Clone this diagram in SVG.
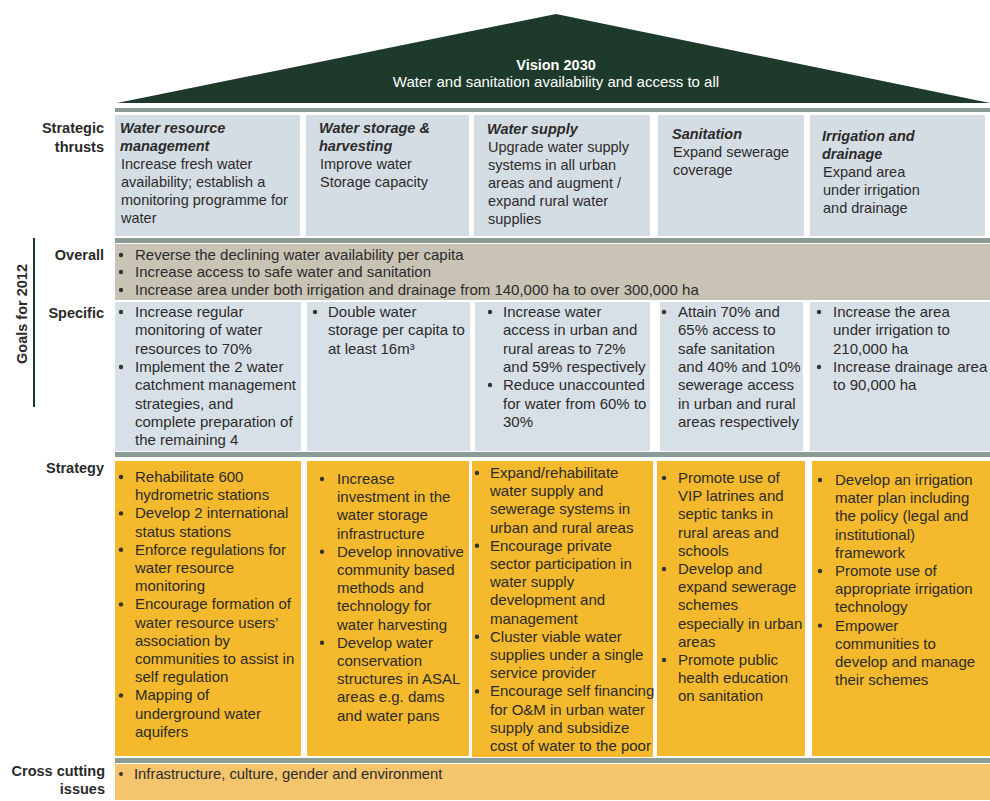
<svg xmlns="http://www.w3.org/2000/svg" width="990" height="801" viewBox="0 0 990 801">
<style>
text{font-family:"Liberation Sans",Arial,Helvetica,sans-serif;fill:#2b2b2b;font-size:15px}
.th{font-size:14.5px}
.hd{font-weight:bold;font-style:italic}
.lb{font-weight:bold;text-anchor:end;font-size:14.5px;fill:#2a2a2a}
.thr{fill:#d5dde4}
.ov{fill:#c9c3b5}
.sp{fill:#d8e0e7}
.st{fill:#f4b92d}
.cc{fill:#f5c56d}
.bar{fill:#8b9b96}
.dot{fill:#333}
</style>
<rect width="990" height="801" fill="#ffffff"/>

<g id="roof">
<polygon points="117,103 556,14 990,103" fill="#1d3a2b"/>
<text x="556" y="70" text-anchor="middle" style="font-weight:bold;font-size:14.5px;fill:#ffffff">Vision 2030</text>
<text x="556" y="87" text-anchor="middle" style="fill:#ffffff">Water and sanitation availability and access to all</text>
</g>

<g id="separators">
<rect class="bar" x="115" y="108" width="875" height="4"/>
<rect class="bar" x="115" y="238" width="875" height="5"/>
<rect class="bar" x="115" y="452" width="875" height="5"/>
<rect class="bar" x="115" y="758" width="875" height="5"/>
</g>
<g id="connectors"/>

<g id="labels">
<text class="lb" x="104" y="133">Strategic</text>
<text class="lb" x="104" y="152">thrusts</text>
<text class="lb" x="104" y="260">Overall</text>
<text class="lb" x="104" y="318">Specific</text>
<text class="lb" x="104" y="473">Strategy</text>
<text class="lb" x="105" y="776">Cross cutting</text>
<text class="lb" x="105" y="794">issues</text>
<text transform="translate(27,314) rotate(-90)" text-anchor="middle" style="font-weight:bold;font-size:14.5px;fill:#2a2a2a">Goals for 2012</text>
<line x1="34" y1="238" x2="34" y2="407" stroke="#1d3a2b" stroke-width="2"/>
</g>

<g id="thrust-water-resource">
<rect class="thr" x="115" y="115" width="185" height="121"/>
<text class="th"><tspan class="hd" x="120" y="133">Water resource</tspan><tspan class="hd" x="120" y="151">management</tspan><tspan x="121" y="169">Increase fresh water</tspan><tspan x="121" y="187">availability; establish a</tspan><tspan x="121" y="205">monitoring programme for</tspan><tspan x="121" y="223">water</tspan></text>
</g>
<g id="thrust-water-storage">
<rect class="thr" x="306" y="115" width="163" height="121"/>
<text class="th"><tspan class="hd" x="319" y="133">Water storage &amp;</tspan><tspan class="hd" x="319" y="151">harvesting</tspan><tspan x="320" y="169">Improve water</tspan><tspan x="320" y="187">Storage capacity</tspan></text>
</g>
<g id="thrust-water-supply">
<rect class="thr" x="474" y="115" width="176" height="121"/>
<text class="th"><tspan class="hd" x="487" y="134">Water supply</tspan><tspan x="488" y="152">Upgrade water supply</tspan><tspan x="488" y="170">systems in all urban</tspan><tspan x="488" y="188">areas and augment /</tspan><tspan x="488" y="206">expand rural water</tspan><tspan x="488" y="224">supplies</tspan></text>
</g>
<g id="thrust-sanitation">
<rect class="thr" x="658" y="115" width="146" height="121"/>
<text class="th"><tspan class="hd" x="672" y="139">Sanitation</tspan><tspan x="673" y="157">Expand sewerage</tspan><tspan x="673" y="175">coverage</tspan></text>
</g>
<g id="thrust-irrigation">
<rect class="thr" x="810" y="115" width="175" height="121"/>
<text class="th"><tspan class="hd" x="822" y="141">Irrigation and</tspan><tspan class="hd" x="822" y="159">drainage</tspan><tspan x="823" y="177">Expand area</tspan><tspan x="823" y="195">under irrigation</tspan><tspan x="823" y="213">and drainage</tspan></text>
</g>

<g id="goals-overall">
<rect class="ov" x="115" y="244" width="875" height="56"/>
<circle class="dot" cx="121" cy="255" r="2.2"/>
<circle class="dot" cx="121" cy="272" r="2.2"/>
<circle class="dot" cx="121" cy="290" r="2.2"/>
<text><tspan x="135" y="260">Reverse the declining water availability per capita</tspan><tspan x="135" y="277">Increase access to safe water and sanitation</tspan><tspan x="135" y="295">Increase area under both irrigation and drainage from 140,000 ha to over 300,000 ha</tspan></text>
</g>

<g id="specific-water-resource">
<rect class="sp" x="115" y="302" width="186" height="149"/>
<circle class="dot" cx="121" cy="312" r="2.2"/>
<circle class="dot" cx="121" cy="367" r="2.2"/>
<text><tspan x="135" y="317">Increase regular</tspan><tspan x="135" y="335.3">monitoring of water</tspan><tspan x="135" y="353.6">resources to 70%</tspan><tspan x="135" y="371.9">Implement the 2 water</tspan><tspan x="135" y="390.2">catchment management</tspan><tspan x="135" y="408.5">strategies, and</tspan><tspan x="135" y="426.8">complete preparation of</tspan><tspan x="135" y="445.1">the remaining 4</tspan></text>
</g>
<g id="specific-water-storage">
<rect class="sp" x="307" y="302" width="163" height="149"/>
<circle class="dot" cx="315" cy="312" r="2.2"/>
<text><tspan x="328" y="317">Double water</tspan><tspan x="328" y="335.3">storage per capita to</tspan><tspan x="328" y="353.6">at least 16m³</tspan></text>
</g>
<g id="specific-water-supply">
<rect class="sp" x="475" y="302" width="175" height="149"/>
<circle class="dot" cx="490" cy="312" r="2.2"/>
<circle class="dot" cx="490" cy="385" r="2.2"/>
<text><tspan x="503" y="317">Increase water</tspan><tspan x="503" y="335.3">access in urban and</tspan><tspan x="503" y="353.6">rural areas to 72%</tspan><tspan x="503" y="371.9">and 59% respectively</tspan><tspan x="503" y="390.2">Reduce unaccounted</tspan><tspan x="503" y="408.5">for water from 60% to</tspan><tspan x="503" y="426.8">30%</tspan></text>
</g>
<g id="specific-sanitation">
<rect class="sp" x="660" y="302" width="143" height="149"/>
<circle class="dot" cx="664" cy="312" r="2.2"/>
<text><tspan x="678" y="317">Attain 70% and</tspan><tspan x="678" y="335.3">65% access to</tspan><tspan x="678" y="353.6">safe sanitation</tspan><tspan x="678" y="371.9">and 40% and 10%</tspan><tspan x="678" y="390.2">sewerage access</tspan><tspan x="678" y="408.5">in urban and rural</tspan><tspan x="678" y="426.8">areas respectively</tspan></text>
</g>
<g id="specific-irrigation">
<rect class="sp" x="810" y="302" width="180" height="149"/>
<circle class="dot" cx="819" cy="312" r="2.2"/>
<circle class="dot" cx="819" cy="367" r="2.2"/>
<text><tspan x="833" y="317">Increase the area</tspan><tspan x="833" y="335.3">under irrigation to</tspan><tspan x="833" y="353.6">210,000 ha</tspan><tspan x="833" y="371.9">Increase drainage area</tspan><tspan x="833" y="390.2">to 90,000 ha</tspan></text>
</g>

<g id="strategy-water-resource">
<rect class="st" x="115" y="461" width="186" height="295"/>
<circle class="dot" cx="121" cy="477" r="2.2"/>
<circle class="dot" cx="121" cy="513.4" r="2.2"/>
<circle class="dot" cx="121" cy="549.8" r="2.2"/>
<circle class="dot" cx="121" cy="604.4" r="2.2"/>
<circle class="dot" cx="121" cy="695.4" r="2.2"/>
<text><tspan x="135" y="482">Rehabilitate 600</tspan><tspan x="135" y="500.2">hydrometric stations</tspan><tspan x="135" y="518.4">Develop 2 international</tspan><tspan x="135" y="536.6">status stations</tspan><tspan x="135" y="554.8">Enforce regulations for</tspan><tspan x="135" y="573">water resource</tspan><tspan x="135" y="591.2">monitoring</tspan><tspan x="135" y="609.4">Encourage formation of</tspan><tspan x="135" y="627.6">water resource users’</tspan><tspan x="135" y="645.8">association by</tspan><tspan x="135" y="664">communities to assist in</tspan><tspan x="135" y="682.2">self regulation</tspan><tspan x="135" y="700.4">Mapping of</tspan><tspan x="135" y="718.6">underground water</tspan><tspan x="135" y="736.8">aquifers</tspan></text>
</g>
<g id="strategy-water-storage">
<rect class="st" x="307" y="461" width="162" height="295"/>
<circle class="dot" cx="322" cy="479" r="2.2"/>
<circle class="dot" cx="322" cy="551.8" r="2.2"/>
<circle class="dot" cx="322" cy="642.8" r="2.2"/>
<text><tspan x="337" y="484">Increase</tspan><tspan x="337" y="502.2">investment in the</tspan><tspan x="337" y="520.4">water storage</tspan><tspan x="337" y="538.6">infrastructure</tspan><tspan x="337" y="556.8">Develop innovative</tspan><tspan x="337" y="575">community based</tspan><tspan x="337" y="593.2">methods and</tspan><tspan x="337" y="611.4">technology for</tspan><tspan x="337" y="629.6">water harvesting</tspan><tspan x="337" y="647.8">Develop water</tspan><tspan x="337" y="666">conservation</tspan><tspan x="337" y="684.2">structures in ASAL</tspan><tspan x="337" y="702.4">areas e.g. dams</tspan><tspan x="337" y="720.6">and water pans</tspan></text>
</g>
<g id="strategy-water-supply">
<rect class="st" x="472" y="461" width="181" height="296"/>
<circle class="dot" cx="477" cy="473" r="2.2"/>
<circle class="dot" cx="477" cy="545.8" r="2.2"/>
<circle class="dot" cx="477" cy="636.8" r="2.2"/>
<circle class="dot" cx="477" cy="691.4" r="2.2"/>
<text><tspan x="490" y="478">Expand/rehabilitate</tspan><tspan x="490" y="496.2">water supply and</tspan><tspan x="490" y="514.4">sewerage systems in</tspan><tspan x="490" y="532.6">urban and rural areas</tspan><tspan x="490" y="550.8">Encourage private</tspan><tspan x="490" y="569">sector participation in</tspan><tspan x="490" y="587.2">water supply</tspan><tspan x="490" y="605.4">development and</tspan><tspan x="490" y="623.6">management</tspan><tspan x="490" y="641.8">Cluster viable water</tspan><tspan x="490" y="660">supplies under a single</tspan><tspan x="490" y="678.2">service provider</tspan><tspan x="490" y="696.4">Encourage self financing</tspan><tspan x="490" y="714.6">for O&amp;M in urban water</tspan><tspan x="490" y="732.8">supply and subsidize</tspan><tspan x="490" y="751">cost of water to the poor</tspan></text>
</g>
<g id="strategy-sanitation">
<rect class="st" x="657" y="461" width="148" height="295"/>
<circle class="dot" cx="664" cy="478" r="2.2"/>
<circle class="dot" cx="664" cy="569" r="2.2"/>
<circle class="dot" cx="664" cy="660" r="2.2"/>
<text><tspan x="678" y="483">Promote use of</tspan><tspan x="678" y="501.2">VIP latrines and</tspan><tspan x="678" y="519.4">septic tanks in</tspan><tspan x="678" y="537.6">rural areas and</tspan><tspan x="678" y="555.8">schools</tspan><tspan x="678" y="574">Develop and</tspan><tspan x="678" y="592.2">expand sewerage</tspan><tspan x="678" y="610.4">schemes</tspan><tspan x="678" y="628.6">especially in urban</tspan><tspan x="678" y="646.8">areas</tspan><tspan x="678" y="665">Promote public</tspan><tspan x="678" y="683.2">health education</tspan><tspan x="678" y="701.4">on sanitation</tspan></text>
</g>
<g id="strategy-irrigation">
<rect class="st" x="812" y="461" width="178" height="295"/>
<circle class="dot" cx="820" cy="480" r="2.2"/>
<circle class="dot" cx="820" cy="571" r="2.2"/>
<circle class="dot" cx="820" cy="625.6" r="2.2"/>
<text><tspan x="835" y="485">Develop an irrigation</tspan><tspan x="835" y="503.2">mater plan including</tspan><tspan x="835" y="521.4">the policy (legal and</tspan><tspan x="835" y="539.6">institutional)</tspan><tspan x="835" y="557.8">framework</tspan><tspan x="835" y="576">Promote use of</tspan><tspan x="835" y="594.2">appropriate irrigation</tspan><tspan x="835" y="612.4">technology</tspan><tspan x="835" y="630.6">Empower</tspan><tspan x="835" y="648.8">communities to</tspan><tspan x="835" y="667">develop and manage</tspan><tspan x="835" y="685.2">their schemes</tspan></text>
</g>

<g id="cross-cutting">
<rect class="cc" x="115" y="764" width="875" height="36"/>
<circle class="dot" cx="121" cy="774" r="2"/>
<text x="134" y="779" style="font-size:14.8px">Infrastructure, culture, gender and environment</text>
</g>
</svg>
